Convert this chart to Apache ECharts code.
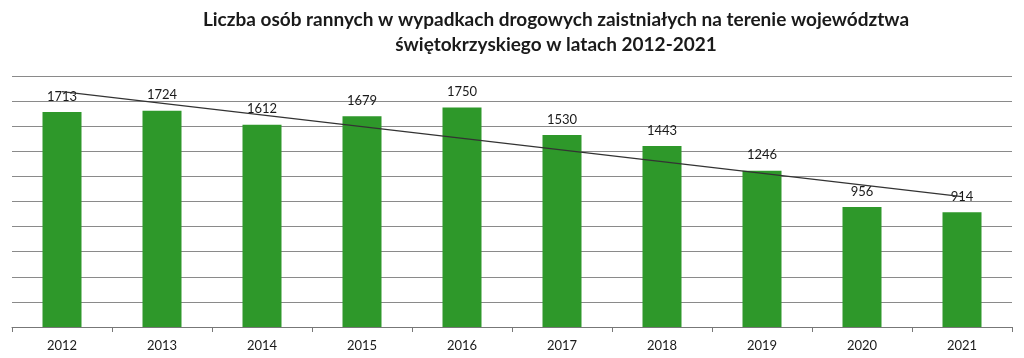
<!DOCTYPE html>
<html><head><meta charset="utf-8">
<script src="https://cdn.jsdelivr.net/npm/echarts@6/dist/echarts.min.js"></script>
<style>html,body{margin:0;padding:0;background:#fff}#c{width:1024px;height:358px}</style>
</head><body><div id="c"></div>
<script>
const years = ['2012','2013','2014','2015','2016','2017','2018','2019','2020','2021'];
const injured = [1713,1724,1612,1679,1750,1530,1443,1246,956,914];
const trendEnds = [1875, 1039];
const yTicks = [0,200,400,600,800,1000,1200,1400,1600,1800,2000];
const titleText = 'Liczba osób rannych w wypadkach drogowych zaistniałych na terenie województwa\nświętokrzyskiego w latach 2012-2021';

const trendData = years.map((y,i)=> i===0 ? trendEnds[0] : (i===years.length-1 ? trendEnds[1] : null));

const chart = echarts.init(document.getElementById('c'), null, {renderer:'canvas'});
chart.setOption({
  animation:false,
  title:{text:titleText,left:551,textAlign:'center',top:2,
    textStyle:{fontFamily:'Lato',fontWeight:'bold',fontSize:19,color:'#1a1a1a',lineHeight:25}},
  grid:{left:12,right:12,top:76,bottom:31,containLabel:false},
  xAxis:{type:'category',data:years,
    axisLine:{lineStyle:{color:'#777',width:1}},
    axisTick:{show:true,length:5,lineStyle:{color:'#777'}},
    axisLabel:{fontFamily:'Lato',fontSize:13,color:'#1a1a1a',margin:12}},
  yAxis:{type:'value',min:yTicks[0],max:yTicks[yTicks.length-1],interval:yTicks[1]-yTicks[0],
    axisLabel:{show:false},axisLine:{show:false},axisTick:{show:false},
    splitLine:{lineStyle:{color:'#8a8a8a',width:1}}},
  series:[
    {type:'bar',data:injured,barWidth:'39%',
     itemStyle:{color:'#2e982a'},
     label:{show:true,position:'top',distance:9,fontFamily:'Lato',fontSize:13,color:'#1a1a1a'}},
    {type:'line',data:trendData,connectNulls:true,symbol:'none',
     lineStyle:{color:'#333',width:1.2},z:5}
  ]
});
</script></body></html>
